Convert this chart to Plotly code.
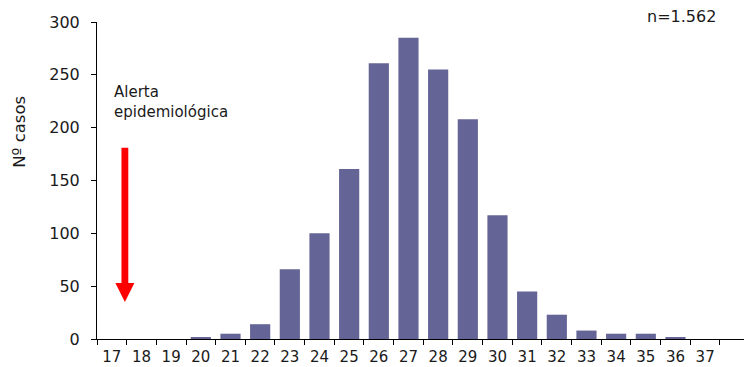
import plotly.graph_objects as go

weeks = list(range(17, 38))
cases = [0, 0, 0, 1, 5, 14, 66, 100, 161, 261, 285, 255, 208, 117, 45, 23, 8, 5, 5, 1, 0]
tick_labels = [str(w) for w in weeks]

bar_color = "#646496"
font_family = "DejaVu Sans"

fig = go.Figure()
fig.add_trace(go.Bar(x=weeks, y=cases, marker=dict(color=bar_color, line=dict(width=0)), width=0.68,
                     hoverinfo="skip"))

# alert arrow (shaft + head) in data coordinates
ax_x = 17.44
fig.add_shape(type="rect", xref="x", yref="y", x0=ax_x - 0.115, x1=ax_x + 0.115, y0=52, y1=181,
              fillcolor="#ff0000", line=dict(width=0))
fig.add_shape(type="path", xref="x", yref="y",
              path=f"M {ax_x-0.32},53 L {ax_x+0.32},53 L {ax_x},35 Z",
              fillcolor="#ff0000", line=dict(width=0))

fig.add_annotation(x=17.0, y=224, xref="x", yref="y", text="Alerta<br>epidemiológica",
                   showarrow=False, xanchor="left", yanchor="middle", align="left",
                   font=dict(size=15, color="#1a1a1a", family=font_family))
fig.add_annotation(x=0.96, y=1.016, xref="paper", yref="paper", text="n=1.562",
                   showarrow=False, xanchor="right", yanchor="middle",
                   font=dict(size=16, color="#1a1a1a", family=font_family))
fig.add_annotation(x=-0.12, y=0.655, xref="paper", yref="paper", text="Nº casos",
                   showarrow=False, textangle=-90, xanchor="center", yanchor="middle",
                   font=dict(size=16.5, color="#1a1a1a", family=font_family))

fig.update_layout(
    width=744, height=367,
    margin=dict(l=97, r=0, t=22, b=28),
    paper_bgcolor="white", plot_bgcolor="white",
    showlegend=False,
    font=dict(family=font_family, size=15, color="#1a1a1a"),
    bargap=0.32,
)
fig.update_xaxes(
    range=[16.5, 38.31], tickmode="array", tickvals=weeks, ticktext=tick_labels,
    ticks="", showline=True, linecolor="black", linewidth=1, showgrid=False, zeroline=False,
    tickfont=dict(size=15), ticklabelstandoff=4, automargin=False,
    minor=dict(tick0=16.5, dtick=1, ticks="outside", ticklen=5, tickcolor="black", showgrid=False),
)
fig.update_yaxes(
    range=[0, 300], tickmode="array", tickvals=[0, 50, 100, 150, 200, 250, 300],
    ticks="outside", ticklen=5, tickcolor="black", showline=True, linecolor="black", linewidth=1,
    showgrid=False, zeroline=False, tickfont=dict(size=16), ticklabelstandoff=8, automargin=False,
)

fig.write_html("out.html", config={"displayModeBar": False},
               post_script="document.body.style.margin='0';document.body.style.overflow='hidden';")
